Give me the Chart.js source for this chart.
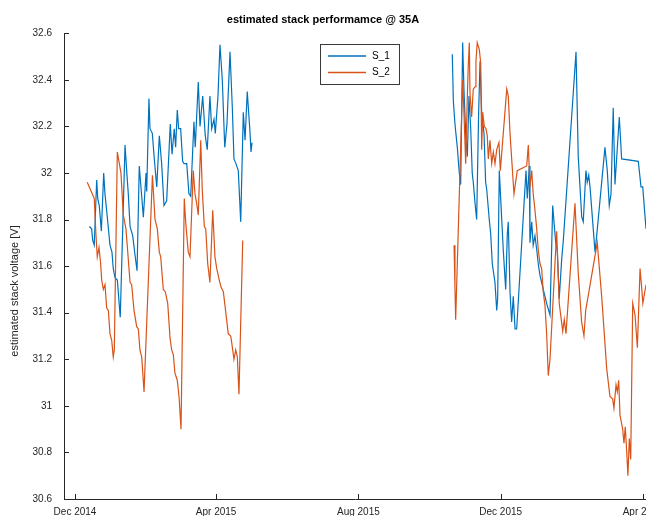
<!DOCTYPE html>
<html>
<head>
<meta charset="utf-8">
<script src="https://cdn.jsdelivr.net/npm/chart.js@4.4.0/dist/chart.umd.min.js"></script>
<style>
  body { margin: 0; background: #fff; }
  #wrap { width: 646px; height: 517px; }
</style>
</head>
<body>
<div id="wrap"><canvas id="stack" width="646" height="517"></canvas></div>
<script>
// x values are days since 1 Dec 2014, null marks the gap in the record
var s1Days = [12.3,14.3,15.2,16.5,18.6,19.5,20.8,22.6,24.6,25.7,27.7,30.0,31.7,32.8,34.3,36.3,38.8,42.9,44.3,45.7,
  47.2,49.5,51.4,53.2,55.1,57.2,58.6,60.9,61.5,63.4,64.3,66.3,68.0,70.1,72.3,74.3,76.3,78.6,81.7,83.2,
  85.1,86.3,87.7,88.9,90.6,92.3,93.5,95.8,97.7,99.2,102.0,103.1,105.7,107.2,109.5,111.7,113.4,115.7,117.2,119.2,
  120.3,122.6,124.3,126.3,128.4,130.3,132.9,134.9,136.3,138.0,140.0,142.1,144.3,145.8,147.7,150.0,150.9,151.8,
  237,
  323.5,324.4,325.8,327.8,329.5,330.7,332.4,333.5,335.2,336.4,337.8,339.3,340.6,341.5,343.0,344.4,346.1,347.3,348.7,350.7,
  352.1,353.0,355.2,356.4,357.8,360.1,361.6,362.4,363.8,365.9,367.2,369.3,370.7,371.5,373.0,374.4,375.8,377.3,378.7,386.7,
  387.8,389.5,390.1,391.6,392.9,394.4,395.9,397.2,398.7,401.5,404.4,407.3,409.6,410.7,412.2,413.5,415.2,417.3,418.7,429.6,
  431.5,434.5,435.8,438.1,439.2,440.5,441.6,443.9,445.9,447.3,454.4,456.4,458.1,459.6,461.5,463.0,466.7,468.7,483.0,485.3,
  486.8,489.6,492.2];
var s1Volts = [31.77,31.76,31.71,31.69,31.97,31.89,31.86,31.75,32.00,31.91,31.81,31.69,31.66,31.59,31.55,31.54,31.38,32.12,32.01,31.91,
  31.77,31.73,31.65,31.58,32.03,31.90,31.81,32.00,31.92,32.32,32.19,32.17,32.06,31.94,32.16,32.04,31.86,31.88,32.21,32.08,
  32.19,32.11,32.27,32.19,32.19,32.05,32.04,32.04,31.91,31.90,32.22,32.11,32.39,32.20,32.33,32.16,32.10,32.33,32.19,32.23,
  32.17,32.33,32.55,32.40,32.11,32.21,32.52,32.28,32.06,32.04,32.01,31.79,32.26,32.14,32.35,32.18,32.09,32.13,
  null,
  32.51,32.31,32.21,32.11,32.00,31.95,32.56,32.36,32.14,32.07,32.33,32.19,32.00,31.96,31.87,31.80,32.26,32.48,32.26,32.17,
  31.96,31.93,31.80,31.74,31.61,31.53,31.41,31.46,32.01,31.80,31.67,31.50,31.74,31.79,31.49,31.36,31.47,31.33,31.33,32.01,
  31.89,32.03,31.70,31.79,31.69,31.73,31.67,31.61,31.56,31.50,31.44,31.39,31.86,31.79,31.70,31.67,31.46,31.63,31.71,32.52,
  32.07,31.81,31.79,32.01,31.96,31.99,31.94,31.79,31.66,31.73,32.11,32.01,31.86,31.91,32.28,31.95,32.24,32.06,32.05,31.94,
  31.94,31.76,31.69];

var s2Days = [10.5,15.7,16.5,18.0,19.1,20.6,22.0,22.9,24.3,25.7,27.2,28.6,30.0,31.5,32.8,33.7,36.3,39.4,41.4,43.7,
  47.2,48.6,50.6,52.9,54.3,55.7,57.2,59.2,66.4,68.6,70.6,72.3,73.5,75.7,77.4,79.5,81.5,82.9,84.3,85.7,
  87.7,89.2,90.9,93.7,94.9,97.1,98.6,101.4,102.9,104.3,105.7,107.8,109.1,110.9,112.1,113.8,115.7,118.1,120.0,121.5,
  123.7,125.2,127.2,128.6,131.4,133.5,134.4,136.3,137.8,139.2,140.6,143.8,
  237,
  325.0,325.8,326.4,332.4,333.5,335.0,336.4,337.2,338.1,338.7,340.1,341.5,343.0,343.8,344.9,346.7,347.9,348.7,349.6,350.9,
  352.4,353.5,354.4,355.8,357.3,358.7,360.1,361.6,363.5,364.7,370.2,371.5,373.0,376.4,379.2,387.3,388.7,390.1,391.6,392.9,
  394.4,395.9,397.2,398.7,400.1,401.5,403.0,404.4,405.8,407.3,413.0,415.2,418.2,419.5,421.0,428.7,431.5,434.4,436.4,437.9,
  447.8,451.6,455.9,458.7,461.0,462.1,463.9,465.0,466.2,467.3,469.6,470.7,471.8,473.0,474.1,475.3,476.5,478.2,480.2,482.2,
  484.5,486.0,486.9,489.6];
var s2Volts = [31.96,31.90,31.89,31.73,31.64,31.68,31.61,31.54,31.50,31.52,31.42,31.41,31.31,31.28,31.21,31.24,32.09,32.00,31.82,31.76,
  31.53,31.52,31.41,31.34,31.33,31.24,31.21,31.06,31.99,31.80,31.76,31.66,31.64,31.50,31.49,31.44,31.29,31.24,31.22,31.14,
  31.11,31.04,30.90,31.89,31.79,31.66,31.64,32.01,31.91,31.87,31.82,32.14,31.93,31.77,31.76,31.61,31.53,31.84,31.64,31.59,
  31.54,31.51,31.49,31.43,31.31,31.30,31.27,31.20,31.24,31.21,31.05,31.71,
  null,
  31.69,31.51,31.37,32.40,32.26,32.04,32.33,32.46,32.56,32.34,32.24,32.36,32.37,32.48,32.56,32.53,32.47,32.10,32.26,32.20,
  32.19,32.16,32.06,32.14,32.04,32.09,32.04,32.10,32.13,32.01,32.36,32.33,32.17,31.91,32.01,32.03,32.12,31.94,32.01,31.91,
  31.84,31.76,31.67,31.61,31.59,31.49,31.43,31.31,31.13,31.20,31.75,31.44,31.32,31.37,31.31,31.87,31.57,31.36,31.30,31.41,
  31.70,31.47,31.16,31.04,31.03,30.99,31.09,31.06,31.11,30.96,30.90,30.84,30.91,30.81,30.70,30.86,30.77,31.44,31.39,31.25,
  31.59,31.50,31.44,31.52];

var xTickDays = [0, 121, 243, 365, 487];
var xTickLabels = ['Dec 2014', 'Apr 2015', 'Aug 2015', 'Dec 2015', 'Apr 2016'];
var yTicks = [30.6, 30.8, 31, 31.2, 31.4, 31.6, 31.8, 32, 32.2, 32.4, 32.6];
var yLabel = 'estimated stack voltage [V]';

var axisColor = '#262626';
var font = 'Liberation Sans, Arial, Helvetica, sans-serif';

function toPoints(days, volts) {
  return days.map(function (d, i) { return { x: d, y: volts[i] }; });
}

// MATLAB style: ticks point inwards, legend box sits inside the axes
var matlabBits = {
  id: 'matlabBits',
  afterDraw: function (chart) {
    var ctx = chart.ctx, area = chart.chartArea;
    var xs = chart.scales.x, ys = chart.scales.y;
    ctx.save();
    ctx.strokeStyle = axisColor;
    ctx.lineWidth = 1;
    ctx.beginPath();
    ys.ticks.forEach(function (t) {
      var py = Math.round(ys.getPixelForValue(t.value)) + 0.5;
      ctx.moveTo(area.left, py);
      ctx.lineTo(area.left + 5, py);
    });
    xs.ticks.forEach(function (t) {
      var px = Math.round(xs.getPixelForValue(t.value)) + 0.5;
      ctx.moveTo(px, area.bottom);
      ctx.lineTo(px, area.bottom - 5);
    });
    ctx.stroke();

    // y axis label (sits a bit below the axes centre in the original)
    ctx.save();
    ctx.translate(15, 291);
    ctx.rotate(-Math.PI / 2);
    ctx.font = '11px ' + font;
    ctx.fillStyle = axisColor;
    ctx.textAlign = 'center';
    ctx.textBaseline = 'middle';
    ctx.fillText(yLabel, 0, 0);
    ctx.restore();

    // legend
    var bx = 320.5, by = 44.5, bw = 79, bh = 40;
    ctx.fillStyle = '#fff';
    ctx.fillRect(bx, by, bw, bh);
    ctx.strokeStyle = '#3a3a3a';
    ctx.strokeRect(bx, by, bw, bh);
    ctx.font = '10px ' + font;
    ctx.textBaseline = 'middle';
    chart.data.datasets.forEach(function (ds, i) {
      var ly = 56 + i * 16.5;
      ctx.strokeStyle = ds.borderColor;
      ctx.lineWidth = 1.3;
      ctx.beginPath();
      ctx.moveTo(328, ly);
      ctx.lineTo(366, ly);
      ctx.stroke();
      ctx.fillStyle = '#000';
      ctx.fillText(ds.label, 372, ly);
    });
    ctx.restore();
  }
};

var ctx = document.getElementById('stack').getContext('2d');
var chart = new Chart(ctx, {
  type: 'line',
  data: {
    datasets: [{
      label: 'S_1',
      data: toPoints(s1Days, s1Volts),
      borderColor: 'rgb(0,114,189)',
      borderWidth: 1.2,
      pointRadius: 0,
      tension: 0,
      order: 1
    }, {
      label: 'S_2',
      data: toPoints(s2Days, s2Volts),
      borderColor: 'rgb(217,83,25)',
      borderWidth: 1.2,
      pointRadius: 0,
      tension: 0,
      order: 0
    }]
  },
  options: {
    responsive: false,
    devicePixelRatio: 1,
    animation: false,
    layout: { padding: 0 },
    plugins: {
      legend: { display: false },
      tooltip: { enabled: false },
      title: {
        display: true,
        text: 'estimated stack performamce @ 35A',
        color: '#000',
        font: { family: font, size: 11, weight: 'bold' },
        padding: { top: 13, bottom: 7 }
      }
    },
    scales: {
      x: {
        type: 'linear',
        min: -9.43,
        max: 489.6,
        grid: { display: false, drawTicks: false },
        border: { display: true, color: axisColor, width: 1 },
        afterBuildTicks: function (scale) {
          scale.ticks = xTickDays.map(function (d) { return { value: d }; });
        },
        afterFit: function (scale) {
          scale.height = 17;
          scale.paddingLeft = 0;
          scale.paddingRight = 0;
        },
        ticks: {
          autoSkip: false,
          maxRotation: 0,
          padding: 7,
          color: axisColor,
          font: { family: font, size: 10 },
          callback: function (v, i) { return xTickLabels[i]; }
        }
      },
      y: {
        min: 30.6,
        max: 32.6,
        grid: { display: false, drawTicks: false },
        border: { display: true, color: axisColor, width: 1 },
        afterBuildTicks: function (scale) {
          scale.ticks = yTicks.map(function (v) { return { value: v }; });
        },
        afterFit: function (scale) {
          scale.width = 64;
        },
        ticks: {
          padding: 12,
          color: axisColor,
          font: { family: font, size: 10 },
          callback: function (v) { return String(+v.toFixed(1)); }
        }
      }
    }
  },
  plugins: [matlabBits]
});
</script>
</body>
</html>
